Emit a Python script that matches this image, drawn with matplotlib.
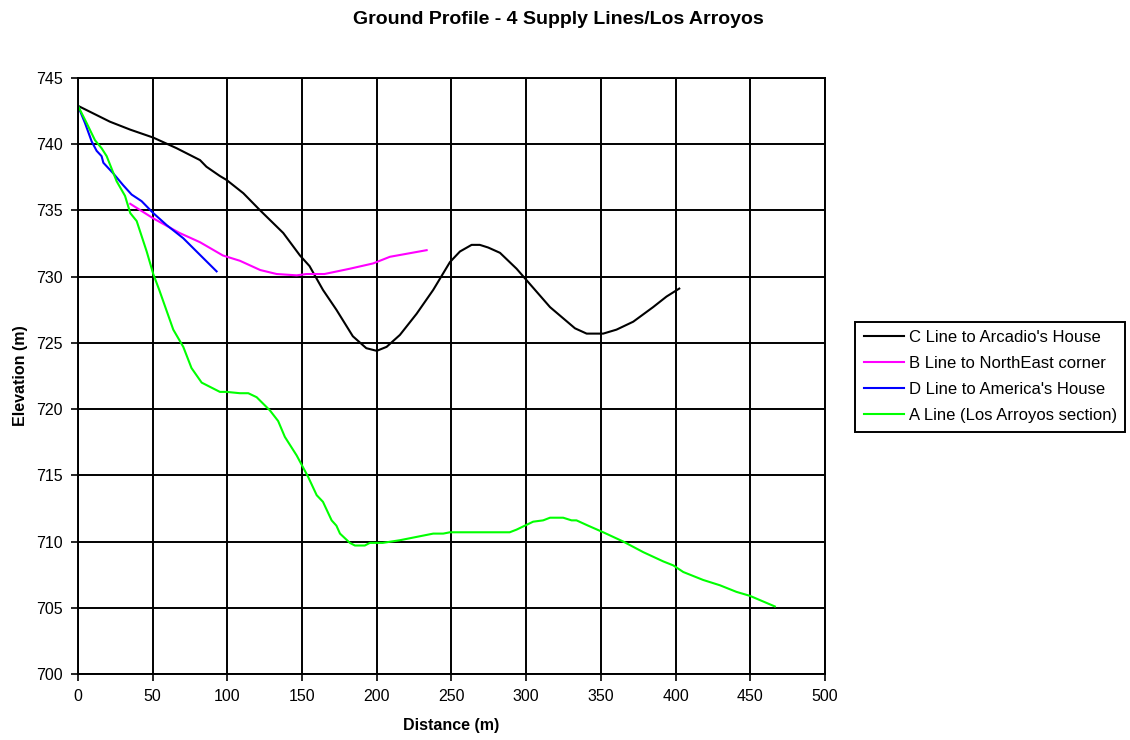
import numpy as np
import matplotlib.pyplot as plt

plt.rcParams['font.family'] = ['Liberation Sans', 'DejaVu Sans']

# ground profiles: distance (m) and elevation (m) for each supply line
c_dist = [0, 21.4, 35, 50.4, 66, 81.7, 86, 95, 99.5, 110.7, 122, 137.4, 148.6, 155, 164,
          173, 184, 193, 200, 206.6, 215.5, 226.7, 237.8, 249, 255.7, 263.5, 269, 274.6,
          282.5, 293.6, 299, 316, 332.7, 340.5, 351.6, 360.5, 371.7, 385, 394, 402.5]
c_elev = [742.9, 741.7, 741.1, 740.5, 739.7, 738.8, 738.3, 737.6, 737.3, 736.3, 735.0, 733.3,
          731.6, 730.8, 729.0, 727.5, 725.5, 724.6, 724.4, 724.7, 725.6, 727.2, 729.0, 731.1,
          731.9, 732.4, 732.4, 732.2, 731.8, 730.6, 729.9, 727.7, 726.1, 725.7, 725.7, 726.0,
          726.6, 727.7, 728.5, 729.1]

b_dist = [35, 50.4, 68, 81.7, 97, 108.4, 122, 133, 146.4, 153, 165, 182, 197.6, 208.8, 233.4]
b_elev = [735.5, 734.4, 733.3, 732.6, 731.6, 731.2, 730.5, 730.2, 730.1, 730.2, 730.2, 730.6,
          731.0, 731.5, 732.0]

d_dist = [0, 4.7, 9.2, 12.5, 15.8, 17, 23.6, 30.3, 35.9, 42.6, 50.4, 59.3, 70.5, 79.4, 92.8]
d_elev = [742.9, 741.6, 740.2, 739.5, 739.1, 738.6, 737.8, 736.9, 736.2, 735.7, 734.8, 733.9,
          732.9, 731.9, 730.4]

a_dist = [0, 5.8, 11.4, 15.8, 19.2, 25.9, 31.5, 35, 39.3, 46, 50.4, 54.4, 63.8, 70.5, 76,
          82.8, 95, 99.5, 108.4, 114, 119.6, 128.5, 134, 138.5, 146.4, 154, 159.8, 164, 169.8,
          173, 175.4, 182, 185.4, 192, 195.4, 204, 215.5, 237.8, 244.5, 249, 289, 293.6,
          304.7, 311.4, 316, 324.8, 330.4, 333.7, 341.5, 351.6, 365, 378.4, 391.8, 398.5,
          405.2, 418.5, 429.7, 440.8, 449.8, 466.5]
a_elev = [742.9, 741.6, 740.3, 739.7, 739.1, 737.2, 736.1, 734.8, 734.2, 731.9, 730.2, 729.0,
          726.0, 724.7, 723.1, 722.0, 721.3, 721.3, 721.2, 721.2, 720.9, 719.9, 719.1, 717.9,
          716.5, 714.9, 713.5, 713.0, 711.6, 711.2, 710.6, 709.9, 709.7, 709.7, 709.9, 709.9,
          710.1, 710.6, 710.6, 710.7, 710.7, 710.9, 711.5, 711.6, 711.8, 711.8, 711.6, 711.6,
          711.2, 710.7, 710.0, 709.2, 708.5, 708.2, 707.7, 707.1, 706.7, 706.2, 705.9, 705.1]

fig = plt.figure(figsize=(11.3, 7.4), dpi=100)
ax = fig.add_axes([0.069, 0.0892, 0.661, 0.8054])

lw = 1.5
ax.plot(c_dist, c_elev, color="black", lw=lw, label="C Line to Arcadio's House")
ax.plot(b_dist, b_elev, color="#ff00ff", lw=lw, label="B Line to NorthEast corner")
ax.plot(d_dist, d_elev, color="#0000ff", lw=lw, label="D Line to America's House")
ax.plot(a_dist, a_elev, color="#00ff00", lw=lw, label="A Line (Los Arroyos section)")

ax.set_xlim(0, 500)
ax.set_ylim(700, 745)
ax.set_xticks(np.arange(0, 501, 50))
ax.set_yticks(np.arange(700, 746, 5))
ax.grid(True, color="black", lw=1.4)
ax.set_axisbelow(True)
for s in ax.spines.values():
    s.set_linewidth(1.4)
ax.tick_params(direction="out", length=5, width=1.2, labelsize=11.5, pad=6)

ax.set_xlabel("Distance (m)", fontsize=11.5, fontweight="bold", labelpad=10)
ax.set_ylabel("Elevation (m)", fontsize=11.5, fontweight="bold", labelpad=6)
fig.suptitle("Ground Profile - 4 Supply Lines/Los Arroyos", fontsize=14,
             fontweight="bold", x=0.494, y=0.985)

leg = fig.legend(loc="upper left", bbox_to_anchor=(0.757, 0.565), fontsize=12,
                 frameon=True, fancybox=False, edgecolor="black", framealpha=1,
                 handlelength=2.4, handletextpad=0.3, borderpad=0.5, labelspacing=0.66,
                 borderaxespad=0)
leg.get_frame().set_linewidth(1.4)

fig.savefig("out.png", dpi=100)
